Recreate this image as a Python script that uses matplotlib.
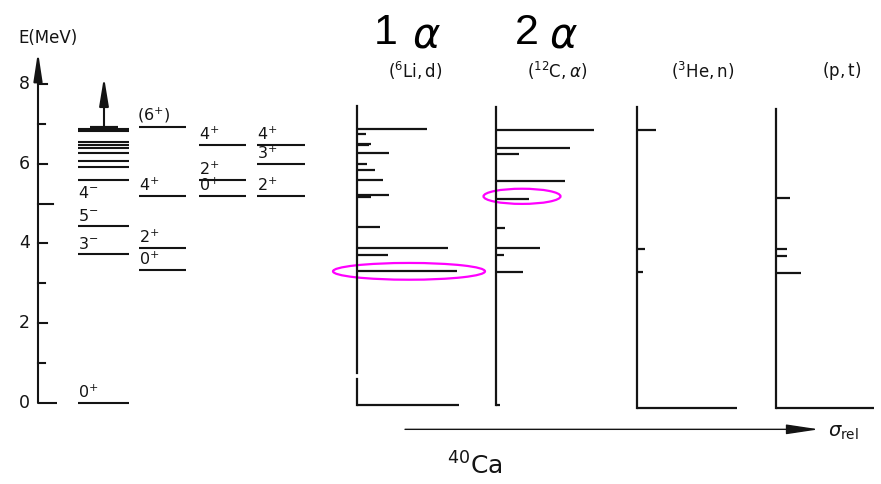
import matplotlib
matplotlib.use("Agg")
import matplotlib.pyplot as plt
from matplotlib.patches import Ellipse

plt.rcParams['font.family'] = ['DejaVu Sans']
plt.rcParams['mathtext.fontset'] = 'dejavusans'

INK = '#141414'

# 40Ca level scheme, energies in MeV, one list per column
col1_levels = [0.0, 3.73, 4.44, 5.59, 5.91, 6.07, 6.27, 6.38, 6.47, 6.55, 6.82, 6.86]
col2_levels = [3.33, 3.89, 5.19, 6.91]
col3_levels = [5.18, 5.60, 6.47]
col4_levels = [5.18, 5.99, 6.46]

# spin/parity labels (energy of the level they belong to, label)
col1_spins = [(0.0, '0^{+}'), (3.73, '3^{-}'), (4.44, '5^{-}'), (5.59, '4^{-}')]
col2_spins = [(3.33, '0^{+}'), (3.89, '2^{+}'), (5.19, '4^{+}'), (6.91, '(6^{+})')]
col3_spins = [(5.18, '0^{+}'), (5.60, '2^{+}'), (6.47, '4^{+}')]
col4_spins = [(5.18, '2^{+}'), (5.99, '3^{+}'), (6.46, '4^{+}')]

# relative cross sections per reaction
reactions = [r'$(^{6}\mathrm{Li,d})$', r'$(^{12}\mathrm{C},\alpha)$',
             r'$(^{3}\mathrm{He,n})$', r'$(\mathrm{p,t})$']
li6d_E = [6.86, 6.73, 6.49, 6.47, 6.27, 5.99, 5.84, 5.59, 5.21, 5.17, 4.42, 3.88, 3.71, 3.30, -0.05]
li6d_sig = [70, 9, 14, 12, 32, 10, 18, 26, 32, 14, 23, 91, 31, 100, 102]
c12a_E = [6.84, 6.40, 6.25, 5.56, 5.12, 4.39, 3.88, 3.70, 3.29, -0.05]
c12a_sig = [98, 74, 23, 69, 33, 9, 44, 8, 27, 4]
he3n_E = [6.84, 3.86, 3.28, -0.12]
he3n_sig = [19, 8, 6, 100]
pt_E = [5.15, 3.86, 3.68, 3.27, -0.13]
pt_sig = [14, 11, 11, 25, 98]
panel_top = [7.44, 7.41, 7.41, 7.37]

E_ticks = [0, 2, 4, 6, 8]

fig = plt.figure(figsize=(8.81, 4.84), dpi=100)
ax = fig.add_axes([0, 0, 1, 1])
ax.set_xlim(0, 881)
ax.set_ylim(-81 / 39.9, 403 / 39.9)
ax.axis('off')

# energy axis
ax_x = 38
ax.annotate('', xy=(ax_x, 8.8), xytext=(ax_x, 0),
            arrowprops=dict(arrowstyle='-|>,head_length=0.85,head_width=0.13',
                            lw=1.5, color=INK, shrinkA=0, shrinkB=0, mutation_scale=20))
ax.plot([ax_x, 57], [0, 0], color=INK, lw=1.5, solid_capstyle='butt')
for e in E_ticks[1:]:
    ax.plot([ax_x, 47], [e, e], color=INK, lw=1.5)
for e in [1, 3, 7]:
    ax.plot([ax_x, 45], [e, e], color=INK, lw=1.5)
ax.plot([ax_x, 53], [5, 5], color=INK, lw=1.5)
for e in E_ticks:
    ax.text(30, e, str(e), ha='right', va='center', fontsize=12.5, color=INK)
ax.text(18, 9.15, 'E(MeV)', ha='left', va='center', fontsize=12, color=INK)

# level scheme
columns = [(78, 129, col1_levels, col1_spins), (139, 186, col2_levels, col2_spins),
           (199, 246, col3_levels, col3_spins), (257, 305, col4_levels, col4_spins)]
for x0, x1, levels, spins in columns:
    for e in levels:
        ax.plot([x0, x1], [e, e], color=INK, lw=1.5, solid_capstyle='butt')
    for e, lab in spins:
        if lab == '4^{-}':
            y, va = e - 0.12, 'top'
        else:
            y, va = e + 0.05, 'bottom'
        ax.text(x0 if lab[0] != '(' else x0 - 2, y, f'${lab}$', ha='left', va=va,
                fontsize=11.5, color=INK)

# dense region continues upward
top = col1_levels[-1]
ax.plot([90, 118], [top + 0.03, top + 0.03], color=INK, lw=3, solid_capstyle='butt')
ax.annotate('', xy=(104, 8.17), xytext=(104, top),
            arrowprops=dict(arrowstyle='-|>,head_length=0.85,head_width=0.14',
                            lw=1.5, color=INK, shrinkA=0, shrinkB=0, mutation_scale=20))

# spectra
panel_x = [356.5, 495.7, 636.5, 776]
title_x = [415, 557, 703, 842]
spectra = [(li6d_E, li6d_sig), (c12a_E, c12a_sig), (he3n_E, he3n_sig), (pt_E, pt_sig)]
for i, (E, sig) in enumerate(spectra):
    x0 = panel_x[i]
    bottom = E[-1]
    if i == 0:
        ax.plot([x0, x0], [bottom, 0.60], color=INK, lw=1.6)
        ax.plot([x0, x0], [0.74, panel_top[i]], color=INK, lw=1.6)
    else:
        ax.plot([x0, x0], [bottom, panel_top[i]], color=INK, lw=1.6)
    for e, s in zip(E, sig):
        ax.plot([x0, x0 + s], [e, e], color=INK, lw=1.6, solid_capstyle='butt')
    ax.text(title_x[i], 8.31, reactions[i], ha='center', va='center',
            fontsize=12, color=INK)

# big labels above the first two spectra
for num, xn, xa in [('1', 386, 426), ('2', 527, 563)]:
    ax.text(xn, 9.28, num, ha='center', va='center', fontsize=31,
            family='Liberation Sans', color='black')
    ax.text(xa, 9.2, r'$\alpha$', ha='center', va='center', fontsize=30, color='black')

# highlighted alpha-cluster states
hl1 = Ellipse((409, li6d_E[13]), 152, 0.42, fill=False, ec='#ff00ff', lw=1.6)
hl2 = Ellipse((522, c12a_E[4] + 0.06), 77, 0.38, fill=False, ec='#ff00ff', lw=1.6)
ax.add_patch(hl1)
ax.add_patch(hl2)

# cross-section arrow and nucleus label
ax.annotate('', xy=(819, -0.66), xytext=(405, -0.66),
            arrowprops=dict(arrowstyle='-|>,head_length=1.0,head_width=0.15',
                            lw=1.0, color=INK, shrinkA=0, shrinkB=0, mutation_scale=20))
ax.text(828, -0.74, r'$\sigma_{\mathrm{rel}}$', ha='left', va='center', fontsize=14, color=INK)
ax.text(447, -1.58, r'$^{40}\mathrm{Ca}$', ha='left', va='center', fontsize=18, color=INK)

fig.savefig('out.png', dpi=100, facecolor='white')
